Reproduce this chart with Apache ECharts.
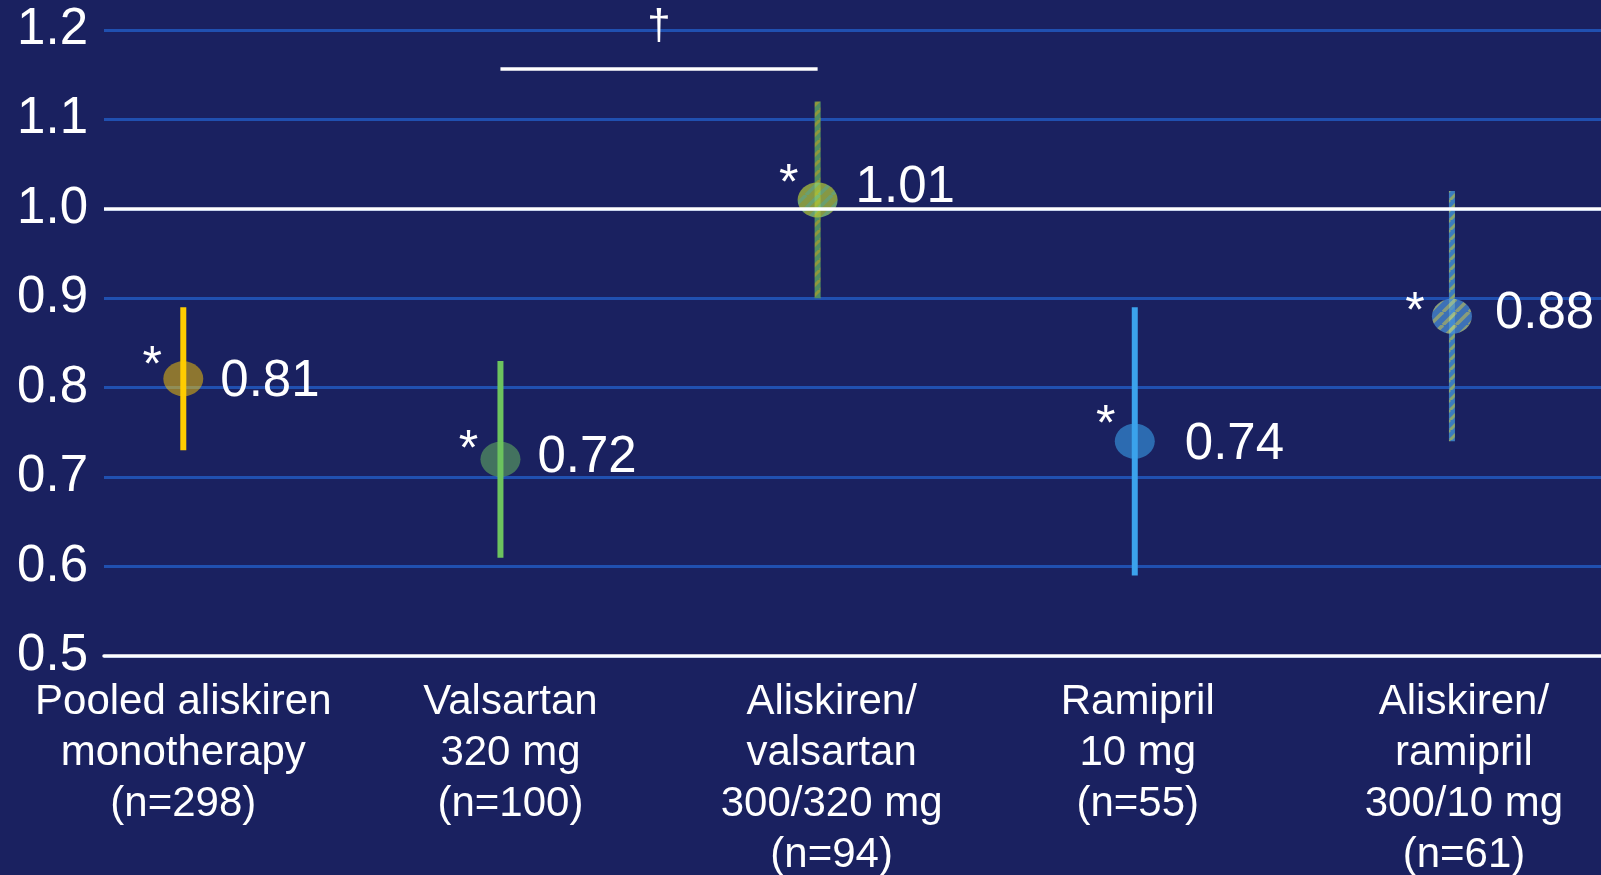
<!DOCTYPE html>
<html>
<head>
<meta charset="utf-8">
<script src="https://cdn.jsdelivr.net/npm/echarts@6/dist/echarts.min.js"></script>
<style>
  html, body { margin: 0; padding: 0; background: #1a2160; }
  #chart { width: 1601px; height: 875px; }
</style>
</head>
<body>
<div id="chart"></div>
<script>
// Treatment groups along the x axis
const categories = [
  'Pooled aliskiren\nmonotherapy\n(n=298)',
  'Valsartan\n320 mg\n(n=100)',
  'Aliskiren/\nvalsartan\n300/320 mg\n(n=94)',
  'Ramipril\n10 mg\n(n=55)',
  'Aliskiren/\nramipril\n300/10 mg\n(n=61)'
];
// Ratio estimate and confidence interval per group
const estimates = [0.81, 0.72, 1.01, 0.74, 0.88];
const ciLower = [0.73, 0.61, 0.90, 0.59, 0.74];
const ciUpper = [0.89, 0.83, 1.12, 0.89, 1.02];
// Groups flagged with an asterisk
const significant = [true, true, true, true, true];
// Between-group comparison bracket
const bracketGroups = [1, 2];
const bracketLevel = 1.157;
const bracketMark = '\u2020';
// Y axis range and reference level
const yMin = 0.5, yMax = 1.2, yStep = 0.1;
const referenceLevel = 1.0;

// ---- styling ----
const FONT = '"Liberation Sans", Arial, Helvetica, sans-serif';
const BG = '#1a2160';
const GRID_BLUE = '#2050b0';

// Diagonal-stripe tile, optionally faded as a whole
function stripes(base, stripe, size, width, alpha) {
  const tile = document.createElement('canvas');
  tile.width = tile.height = size;
  const g = tile.getContext('2d');
  g.fillStyle = base;
  g.fillRect(0, 0, size, size);
  g.strokeStyle = stripe;
  g.lineWidth = width;
  for (let k = -1; k <= 1; k++) {
    g.beginPath();
    g.moveTo(k * size, size);
    g.lineTo(k * size + size, 0);
    g.stroke();
  }
  if (alpha == null || alpha >= 1) return { image: tile, repeat: 'repeat' };
  const faded = document.createElement('canvas');
  faded.width = faded.height = size;
  const f = faded.getContext('2d');
  f.globalAlpha = alpha;
  f.drawImage(tile, 0, 0);
  return { image: faded, repeat: 'repeat' };
}

const barFills = [
  '#ffcc00',
  '#6cc35e',
  stripes('#4f8e64', '#8e983c', 10, 3),
  '#3ba2ec',
  stripes('#3c7dbe', '#8aa46e', 10, 3)
];
const markerFills = [
  'rgba(255,204,0,0.5)',
  'rgba(108,195,94,0.5)',
  stripes('#b0c63a', '#8ad078', 13, 3.5, 0.72),
  'rgba(59,162,236,0.58)',
  stripes('#4a90d8', '#b4cc84', 13, 3.5, 0.72)
];
const markerRadius = [20, 17.5];
// fine placement of the value labels and asterisks around each marker (px)
const valueLabelShift = [[0, 3], [0, -1], [1, -12], [13, 4], [6, -2]];
const asteriskShift = [[-31, -24], [-32, -20], [-29, -27], [-29, -27], [-37, -15]];
// horizontal nudge of the category text blocks (px)
const categoryNudge = [0, 10, 14, 3, 12];

const xMin = -0.25, xMax = 4.47;
const gridLeft = 104, gridRight = 0;
const pxPerUnit = (1601 - gridLeft - gridRight) / (xMax - xMin);
const labelPositions = categories.map((c, i) => i + categoryNudge[i] / pxPerUnit);

const chart = echarts.init(document.getElementById('chart'));

chart.setOption({
  backgroundColor: BG,
  animation: false,
  grid: {
    left: gridLeft, right: gridRight, top: 30, bottom: 219,
    containLabel: false, outerBoundsMode: 'none'
  },
  xAxis: {
    type: 'value',
    min: xMin,
    max: xMax,
    axisLine: { show: true, onZero: false, lineStyle: { color: '#ffffff', width: 3.5 } },
    axisTick: { show: false },
    splitLine: { show: false },
    axisLabel: {
      customValues: labelPositions,
      formatter: v => categories[Math.round(v)],
      color: '#ffffff',
      fontFamily: FONT,
      fontSize: 42,
      lineHeight: 51,
      margin: 21,
      align: 'center'
    }
  },
  yAxis: {
    type: 'value',
    min: yMin,
    max: yMax,
    interval: yStep,
    axisLine: { show: false },
    axisTick: { show: false },
    axisLabel: {
      formatter: v => v.toFixed(1),
      color: '#ffffff',
      fontFamily: FONT,
      fontSize: 51,
      margin: 16
    },
    splitLine: { show: true, lineStyle: { color: GRID_BLUE, width: 3 } }
  },
  series: [
    {
      // reference line at 1.0 and comparison bracket
      type: 'line',
      data: [],
      z: 1,
      silent: true,
      markLine: {
        silent: true,
        symbol: 'none',
        label: { show: false },
        lineStyle: { color: '#ffffff', width: 3.5, type: 'solid' },
        data: [
          { yAxis: referenceLevel },
          [
            { coord: [bracketGroups[0], bracketLevel] },
            { coord: [bracketGroups[1], bracketLevel] }
          ]
        ]
      }
    },
    {
      // confidence interval bars
      type: 'custom',
      z: 2,
      silent: true,
      data: categories.map((c, i) => [i, ciLower[i], ciUpper[i]]),
      renderItem(params, api) {
        const x = api.value(0);
        const top = api.coord([x, api.value(2)]);
        const bottom = api.coord([x, api.value(1)]);
        const w = 6;
        return {
          type: 'rect',
          shape: { x: top[0] - w / 2, y: top[1], width: w, height: bottom[1] - top[1] },
          style: { fill: barFills[params.dataIndex] }
        };
      }
    },
    {
      // point estimate markers (drawn at true size so the hatching keeps its scale)
      type: 'custom',
      z: 3,
      silent: true,
      data: estimates.map((v, i) => [i, v]),
      renderItem(params, api) {
        const p = api.coord([api.value(0), api.value(1)]);
        return {
          type: 'ellipse',
          shape: { cx: p[0], cy: p[1], rx: markerRadius[0], ry: markerRadius[1] },
          style: { fill: markerFills[params.dataIndex] }
        };
      }
    },
    {
      // value labels beside each marker
      type: 'scatter',
      z: 4,
      silent: true,
      symbol: 'circle',
      symbolSize: [markerRadius[0] * 2, markerRadius[1] * 2],
      itemStyle: { color: 'rgba(0,0,0,0)', opacity: 1 },
      data: estimates.map((v, i) => ({
        value: [i, v],
        label: { offset: valueLabelShift[i] }
      })),
      label: {
        show: true,
        position: 'right',
        distance: 17,
        formatter: p => p.value[1].toFixed(2),
        color: '#ffffff',
        fontFamily: FONT,
        fontSize: 51
      }
    },
    {
      // asterisks
      type: 'scatter',
      z: 4,
      silent: true,
      symbolSize: 1,
      itemStyle: { color: 'rgba(0,0,0,0)', opacity: 1 },
      data: estimates.map((v, i) => significant[i] ? {
        value: [i, v],
        label: { offset: [asteriskShift[i][0], asteriskShift[i][1] + 12] }
      } : null).filter(Boolean),
      label: {
        show: true,
        position: 'inside',
        formatter: '*',
        color: '#ffffff',
        fontFamily: FONT,
        fontSize: 50
      }
    },
    {
      // dagger above the bracket
      type: 'scatter',
      z: 4,
      silent: true,
      symbolSize: 1,
      itemStyle: { color: 'rgba(0,0,0,0)', opacity: 1 },
      data: [[(bracketGroups[0] + bracketGroups[1]) / 2, bracketLevel]],
      label: {
        show: true,
        position: 'inside',
        offset: [0, -41],
        formatter: bracketMark,
        color: '#ffffff',
        fontFamily: FONT,
        fontSize: 42
      }
    }
  ]
});
</script>
</body>
</html>
